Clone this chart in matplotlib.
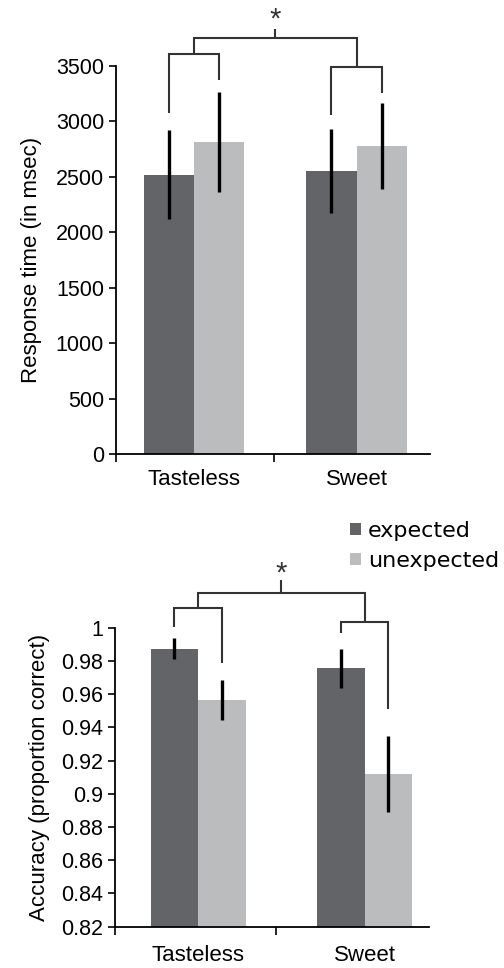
import matplotlib.pyplot as plt
import numpy as np

plt.rcParams['font.family'] = ['Liberation Sans', 'DejaVu Sans']

categories = ['Tasteless', 'Sweet']
conditions = ['expected', 'unexpected']

# response time (msec), mean and error
rt_expected = [2520, 2550]
rt_expected_err = [405, 380]
rt_unexpected = [2815, 2780]
rt_unexpected_err = [450, 387]

# accuracy (proportion correct)
acc_expected = [0.9875, 0.9755]
acc_expected_err = [0.0065, 0.012]
acc_unexpected = [0.9565, 0.912]
acc_unexpected_err = [0.012, 0.023]

rt_ticks = [0, 500, 1000, 1500, 2000, 2500, 3000, 3500]
acc_ticks = [0.82, 0.84, 0.86, 0.88, 0.90, 0.92, 0.94, 0.96, 0.98, 1.0]
acc_ticklabels = ['0.82', '0.84', '0.86', '0.88', '0.9', '0.92', '0.94', '0.96', '0.98', '1']

DARK = '#636467'
LIGHT = '#bbbcbe'
LINE = '#333333'


def bar_panel(ax, exp, exp_err, unexp, unexp_err, w, xlim, mid):
    x = np.arange(len(categories))
    b1 = ax.bar(x - w / 2, exp, w, color=DARK, label=conditions[0], zorder=2)
    b2 = ax.bar(x + w / 2, unexp, w, color=LIGHT, label=conditions[1], zorder=2)
    ax.errorbar(x - w / 2, exp, yerr=exp_err, fmt='none', ecolor='black',
                elinewidth=2.4, capsize=0, zorder=3)
    ax.errorbar(x + w / 2, unexp, yerr=unexp_err, fmt='none', ecolor='black',
                elinewidth=2.4, capsize=0, zorder=3)
    ax.set_xlim(*xlim)
    ax.set_xticks(x)
    ax.set_xticklabels(categories, fontsize=16)
    ax.set_xticks([xlim[0], mid], minor=True)
    ax.tick_params(axis='x', which='major', length=0)
    ax.tick_params(axis='x', which='minor', length=6, width=1.2, direction='out')
    ax.tick_params(axis='y', length=5, width=1.2, direction='out', labelsize=15.5)
    for s in ['top', 'right']:
        ax.spines[s].set_visible(False)
    for s in ['left', 'bottom']:
        ax.spines[s].set_linewidth(1.3)
    return x, b1, b2


def brackets(ax, x, w, legs_l, legs_r, top_l, top_r, top, tick_top, star_y):
    kw = dict(color=LINE, lw=1.5, clip_on=False, solid_capstyle='butt',
              solid_joinstyle='miter')
    l0, l1 = x[0] - w / 2, x[0] + w / 2
    r0, r1 = x[1] - w / 2, x[1] + w / 2
    ax.plot([l0, l0, l1, l1], [legs_l[0], top_l, top_l, legs_l[1]], **kw)
    ax.plot([r0, r0, r1, r1], [legs_r[0], top_r, top_r, legs_r[1]], **kw)
    ax.plot([x[0], x[0], x[1], x[1]], [top_l, top, top, top_r], **kw)
    xc = (x[0] + x[1]) / 2
    ax.plot([xc, xc], [top, tick_top], **kw)
    ax.text(xc, star_y, '*', ha='center', va='center', fontsize=21, color=LINE)


fig = plt.figure(figsize=(5.04, 9.68), dpi=100)

# response time panel
ax1 = fig.add_axes([0.230, 0.531, 0.623, 0.401])
w1 = 0.31
x1, _, _ = bar_panel(ax1, rt_expected, rt_expected_err, rt_unexpected,
                     rt_unexpected_err, w1, (-0.48, 1.45), 0.49)
ax1.set_ylim(0, 3500)
ax1.set_yticks(rt_ticks)
ax1.set_ylabel('Response time (in msec)', fontsize=16, labelpad=10)
ax1.tick_params(axis='x', which='major', pad=11)
brackets(ax1, x1, w1, (3075, 3376), (3060, 3255), 3610, 3489, 3754, 3829, 3915)

# accuracy panel
ax2 = fig.add_axes([0.228, 0.0427, 0.623, 0.3088])
w2 = 0.285
x2, h1, h2 = bar_panel(ax2, acc_expected, acc_expected_err, acc_unexpected,
                       acc_unexpected_err, w2, (-0.5, 1.386), 0.468)
ax2.set_ylim(0.82, 1.0)
ax2.set_yticks(acc_ticks)
ax2.set_yticklabels(acc_ticklabels)
ax2.set_ylabel('Accuracy (proportion correct)', fontsize=16, labelpad=8)
ax2.tick_params(axis='x', which='major', pad=13)
brackets(ax2, x2, w2, (1.0006, 0.979), (0.9966, 0.9509), 1.0117, 1.0036,
         1.021, 1.0287, 1.0325)

fig.legend([h1, h2], conditions, loc='upper left',
           bbox_to_anchor=(350 / 504, 1 - 521 / 968), frameon=False,
           prop={'family': 'DejaVu Sans', 'size': 16},
           handlelength=0.5, handleheight=0.5,
           handletextpad=0.3, labelspacing=0.45, borderpad=0, borderaxespad=0)

fig.savefig('out.png', dpi=100)
